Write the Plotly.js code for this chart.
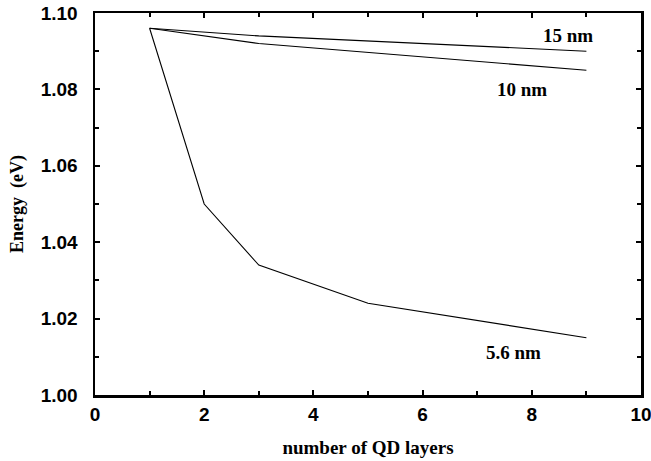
<!DOCTYPE html>
<html>
<head>
<meta charset="utf-8">
<script src="https://cdn.plot.ly/plotly-3.0.1.min.js"></script>
<style>html,body{margin:0;padding:0;background:#fff;}#chart{width:651px;height:461px;}</style>
</head>
<body>
<div id="chart"></div>
<script>
const x_15nm = [1, 3, 9];
const y_15nm = [1.096, 1.094, 1.090];
const x_10nm = [1, 3, 9];
const y_10nm = [1.096, 1.092, 1.085];
const x_56nm = [1, 2, 3, 5, 9];
const y_56nm = [1.096, 1.050, 1.034, 1.024, 1.015];
const labels = ['15 nm', '10 nm', '5.6 nm'];
const labelX = [8.66, 7.82, 7.66];
const labelY = [1.0942, 1.0800, 1.0110];

const lineStyle = {color: '#000', width: 1.1};
const traces = [
  {x: x_15nm, y: y_15nm, mode: 'lines', line: lineStyle, name: labels[0]},
  {x: x_10nm, y: y_10nm, mode: 'lines', line: lineStyle, name: labels[1]},
  {x: x_56nm, y: y_56nm, mode: 'lines', line: lineStyle, name: labels[2]}
];
const serif = 'Liberation Serif, Times New Roman, serif';
const annotations = labels.map((t, i) => ({
  x: labelX[i], y: labelY[i], xref: 'x', yref: 'y', text: '<b>' + t + '</b>', showarrow: false,
  font: {family: serif, size: 19, color: '#000'}
}));
const tickFont = {family: 'Liberation Sans, Arial, sans-serif', size: 19, color: '#000', weight: 'bold'};
const layout = {
  width: 651, height: 461,
  margin: {l: 95, r: 10, t: 13, b: 66},
  paper_bgcolor: '#fff', plot_bgcolor: '#fff',
  showlegend: false,
  annotations: annotations,
  xaxis: {
    range: [0, 10], dtick: 2, tick0: 0, showgrid: false, zeroline: false,
    showline: true, linewidth: 2.5, linecolor: '#000', mirror: 'allticks',
    ticks: 'inside', ticklen: 5, tickwidth: 2, tickcolor: '#000',
    minor: {dtick: 1, ticks: 'inside', ticklen: 4, tickwidth: 2, tickcolor: '#000', showgrid: false},
    tickfont: tickFont, ticklabelstandoff: 1, ticklabeloverflow: 'allow',
    title: {text: '<b>number of QD layers</b>', font: {family: serif, size: 19, color: '#000'}, standoff: 17}
  },
  yaxis: {
    range: [1.00, 1.10], dtick: 0.02, tick0: 1.0, tickformat: '.2f', showgrid: false, zeroline: false,
    showline: true, linewidth: 2.5, linecolor: '#000', mirror: 'allticks',
    ticks: 'inside', ticklen: 5, tickwidth: 2, tickcolor: '#000',
    minor: {dtick: 0.01, ticks: 'inside', ticklen: 4, tickwidth: 2, tickcolor: '#000', showgrid: false},
    tickfont: tickFont, ticklabelstandoff: 11, ticklabeloverflow: 'allow',
    title: {text: '<b>Energy  (eV)</b>', font: {family: serif, size: 18, color: '#000'}, standoff: 13}
  }
};
Plotly.newPlot('chart', traces, layout, {staticPlot: true, displayModeBar: false});
</script>
</body>
</html>
